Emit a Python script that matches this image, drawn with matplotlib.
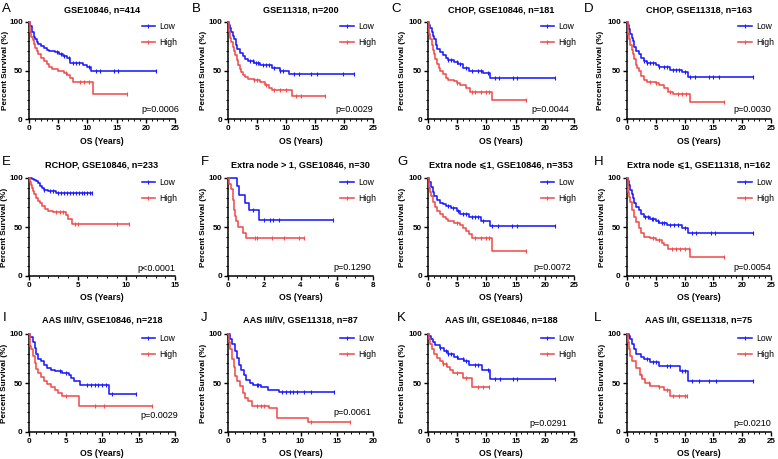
import numpy as np
import matplotlib
matplotlib.use("Agg")
import matplotlib.pyplot as plt
from matplotlib.lines import Line2D
from matplotlib.ticker import MultipleLocator

plt.rcParams['font.family'] = ['Liberation Sans', 'DejaVu Sans']

# ---------------- data ----------------
titles = ["GSE10846, n=414", "GSE11318, n=200", "CHOP, GSE10846, n=181", "CHOP, GSE11318, n=163",
          "RCHOP, GSE10846, n=233", "Extra node > 1, GSE10846, n=30", "Extra node \u2a7d1, GSE10846, n=353",
          "Extra node \u2a7d1, GSE11318, n=162", "AAS III/IV, GSE10846, n=218", "AAS III/IV, GSE11318, n=87",
          "AAS I/II, GSE10846, n=188", "AAS I/II, GSE11318, n=75"]
letters = ["A", "B", "C", "D", "E", "F", "G", "H", "I", "J", "K", "L"]
pvalues = ["p=0.0006", "p=0.0029", "p=0.0044", "p=0.0030", "p<0.0001", "p=0.1290",
           "p=0.0072", "p=0.0054", "p=0.0029", "p=0.0061", "p=0.0291", "p=0.0210"]
xmax = [25, 25, 25, 25, 15, 8, 25, 25, 20, 20, 25, 25]
xstep = [5, 5, 5, 5, 5, 2, 5, 5, 5, 5, 5, 5]
series_names = ["Low", "High"]

A_low_t = [0, 0.2, 0.5, 0.8, 1.0, 1.3, 1.6, 2.0, 2.5, 3.0, 3.5, 4.5, 5.2, 5.8, 6.5, 7.0, 9.3, 10.0, 10.6]
A_low_s = [100, 96, 90, 85, 82, 79, 77, 75, 73, 71, 70, 69, 67, 65, 63, 58, 56, 54, 49.5]
A_low_end = 21.8
A_low_c = [4.8, 5.5, 6.0, 6.8, 7.5, 8.0, 8.5, 10.3, 11.5, 12.2, 14.5, 15.3, 21.8]
A_high_t = [0, 0.1, 0.2, 0.4, 0.6, 0.8, 1.0, 1.3, 1.6, 2.0, 2.5, 3.0, 3.5, 4.0, 5.0, 6.0, 6.5, 7.0, 7.5, 11.0]
A_high_s = [100, 94, 90, 85, 81, 77, 73, 70, 67, 63, 60, 57, 54, 52, 50, 47, 45, 42, 38.5, 26]
A_high_end = 16.8
A_high_c = [6.3, 8.7, 9.5, 10.3, 16.8]

B_low_t = [0, 0.2, 0.4, 0.6, 0.8, 1.0, 1.3, 1.6, 2.0, 2.5, 3.0, 3.5, 4.5, 5.5, 7.5, 9.0, 10.6]
B_low_s = [100, 97, 94, 90, 86, 82, 76, 72, 68, 65, 62, 60, 58, 56, 53, 50, 46]
B_low_end = 21.8
B_low_c = [3.8, 4.3, 4.8, 5.2, 6.0, 6.5, 7.0, 8.0, 9.0, 9.5, 11.3, 12.2, 14.3, 15.3, 19.8, 21.8]
B_high_t = [0, 0.1, 0.2, 0.4, 0.6, 0.8, 1.0, 1.2, 1.5, 1.8, 2.0, 2.3, 2.6, 3.0, 3.5, 4.5, 5.5, 6.3, 7.0, 7.5, 11.0]
B_high_s = [100, 94, 90, 84, 79, 74, 70, 66, 61, 56, 52, 48, 45, 43, 41, 40, 38, 35, 32, 30, 24]
B_high_end = 16.8
B_high_c = [4.5, 5.0, 6.5, 8.0, 9.0, 10.0, 11.8, 12.5, 16.8]

C_low_t = [0, 0.2, 0.4, 0.6, 0.8, 1.0, 1.3, 1.6, 2.0, 2.5, 3.0, 3.5, 4.5, 5.2, 6.0, 7.0, 9.5, 10.6]
C_low_s = [100, 97, 94, 90, 86, 82, 76, 72, 69, 66, 63, 61, 59, 57, 53, 49, 47, 42.5]
C_low_end = 21.8
C_low_c = [3.5, 4.0, 5.0, 5.5, 6.5, 7.5, 8.5, 9.0, 10.3, 11.5, 12.2, 14.5, 15.3, 21.8]
C_high_t = [0, 0.1, 0.2, 0.4, 0.6, 0.8, 1.0, 1.2, 1.5, 1.8, 2.0, 2.5, 3.0, 3.5, 4.5, 5.0, 5.5, 6.5, 7.2, 11.0]
C_high_s = [100, 94, 88, 82, 76, 71, 67, 62, 57, 53, 50, 46, 42, 40, 39, 37, 35, 32, 28, 19.5]
C_high_end = 16.8
C_high_c = [5.0, 7.5, 8.0, 9.0, 10.0, 10.5, 16.8]

D_low_t = [0, 0.2, 0.4, 0.6, 0.8, 1.0, 1.3, 1.6, 2.0, 2.5, 3.0, 3.5, 5.0, 5.5, 7.5, 9.5, 10.6]
D_low_s = [100, 97, 93, 88, 84, 80, 74, 70, 67, 63, 60, 58, 56, 54, 51, 48, 43]
D_low_end = 21.8
D_low_c = [3.0, 3.5, 4.0, 4.5, 5.5, 6.5, 7.0, 8.0, 8.5, 9.0, 10.0, 11.0, 11.8, 14.3, 15.0, 16.0, 21.8]
D_high_t = [0, 0.1, 0.2, 0.4, 0.6, 0.8, 1.0, 1.2, 1.5, 1.8, 2.0, 2.5, 3.0, 3.5, 5.0, 5.5, 6.5, 7.2, 8.0, 11.0]
D_high_s = [100, 94, 88, 82, 76, 71, 67, 62, 56, 53, 50, 44, 40, 38, 37, 35, 32, 28, 26, 17.5]
D_high_end = 16.8
D_high_c = [4.0, 5.0, 7.5, 8.8, 9.5, 10.3, 16.8]

E_low_t = [0, 0.3, 0.5, 0.7, 0.9, 1.1, 1.3, 1.5, 2.0, 2.8]
E_low_s = [100, 99, 98, 97, 95, 92, 90, 88, 87, 85]
E_low_end = 6.5
E_low_c = [1.5, 2.2, 2.5, 3.0, 3.3, 3.6, 3.9, 4.2, 4.5, 4.8, 5.1, 5.4, 5.7, 6.0, 6.3, 6.5]
E_high_t = [0, 0.1, 0.2, 0.3, 0.4, 0.5, 0.7, 0.9, 1.1, 1.3, 1.6, 2.0, 2.5, 3.8, 4.0, 4.4]
E_high_s = [100, 96, 93, 90, 87, 84, 80, 77, 74, 71, 68, 66, 65, 62, 58, 53]
E_high_end = 10.3
E_high_c = [2.8, 3.2, 3.5, 4.7, 5.0, 9.0, 10.3]

F_low_t = [0, 0.5, 0.62, 0.95, 1.15, 1.7]
F_low_s = [100, 92, 83, 75, 67, 57]
F_low_end = 5.8
F_low_c = [1.4, 2.0, 2.3, 2.5, 2.8, 5.8]
F_high_t = [0, 0.05, 0.15, 0.3, 0.35, 0.4, 0.45, 0.55, 0.85, 1.0]
F_high_s = [100, 94, 89, 78, 67, 61, 56, 50, 44, 39]
F_high_end = 4.2
F_high_c = [1.5, 1.6, 2.4, 3.1, 3.9, 4.2]

G_low_t = [0, 0.2, 0.5, 0.8, 1.0, 1.5, 2.0, 2.5, 3.0, 4.0, 5.0, 5.5, 7.0, 9.0, 10.6]
G_low_s = [100, 96, 91, 86, 82, 78, 75, 73, 71, 69, 66, 63, 60, 56, 51]
G_low_end = 21.8
G_low_c = [3.5, 4.2, 5.2, 6.0, 6.5, 7.5, 8.0, 8.5, 9.5, 11.0, 12.0, 14.3, 15.3, 21.8]
G_high_t = [0, 0.1, 0.2, 0.35, 0.5, 0.8, 1.2, 1.6, 2.0, 2.5, 3.0, 3.5, 4.5, 5.5, 6.0, 6.5, 7.0, 7.5, 11.0]
G_high_s = [100, 94, 90, 86, 82, 76, 70, 66, 63, 60, 58, 56, 54, 52, 49, 46, 43, 39, 26]
G_high_end = 16.8
G_high_c = [5.0, 8.0, 9.0, 10.0, 10.5, 16.8]

H_low_t = [0, 0.2, 0.4, 0.6, 0.8, 1.0, 1.3, 1.6, 2.0, 2.5, 3.0, 4.0, 5.0, 5.5, 7.0, 9.5, 10.6]
H_low_s = [100, 97, 93, 88, 84, 80, 74, 70, 67, 63, 60, 58, 56, 54, 52, 49, 44]
H_low_end = 21.8
H_low_c = [3.2, 3.6, 4.3, 4.6, 5.3, 6.0, 6.5, 7.5, 8.2, 8.8, 10.0, 11.2, 12.0, 14.5, 15.3, 21.8]
H_high_t = [0, 0.1, 0.2, 0.35, 0.5, 0.8, 1.2, 1.5, 2.0, 2.5, 3.0, 4.0, 5.0, 6.0, 6.5, 7.2, 11.0]
H_high_s = [100, 93, 86, 81, 76, 67, 60, 55, 49, 44, 40, 39, 37, 34, 32, 28, 19]
H_high_end = 16.8
H_high_c = [4.5, 5.5, 7.8, 8.5, 9.2, 10.0, 10.7, 16.8]

I_low_t = [0, 0.2, 0.5, 0.8, 1.0, 1.3, 1.6, 2.0, 2.5, 3.0, 3.5, 4.5, 5.5, 5.8, 6.2, 7.0, 11.0]
I_low_s = [100, 97, 92, 86, 80, 75, 72, 68, 65, 63, 62, 60, 58, 55, 52, 48, 38.5]
I_low_end = 14.6
I_low_c = [4.2, 5.0, 8.0, 8.5, 9.0, 9.5, 10.0, 10.5, 11.4, 14.6]
I_high_t = [0, 0.1, 0.2, 0.3, 0.5, 0.8, 1.0, 1.3, 1.6, 2.0, 2.5, 3.0, 3.5, 4.0, 4.5, 6.8]
I_high_s = [100, 92, 88, 85, 78, 70, 64, 60, 56, 52, 49, 46, 43, 40, 37, 27]
I_high_end = 16.8
I_high_c = [5.0, 9.0, 10.3, 16.8]

J_low_t = [0, 0.3, 0.6, 0.9, 1.2, 1.5, 1.8, 2.2, 2.5, 3.0, 3.5, 4.5, 5.5, 7.0]
J_low_s = [100, 95, 90, 83, 76, 68, 63, 58, 53, 50, 48, 46, 43, 40.5]
J_low_end = 14.6
J_low_c = [4.0, 4.2, 7.5, 8.0, 8.5, 9.0, 9.5, 10.5, 11.5, 14.6]
J_high_t = [0, 0.1, 0.3, 0.5, 0.8, 1.0, 1.3, 1.6, 2.0, 2.3, 2.8, 3.3, 5.6, 6.8, 11.0]
J_high_s = [100, 92, 85, 75, 66, 57, 52, 47, 40, 35, 32, 27, 24, 14, 10]
J_high_end = 16.8
J_high_c = [4.0, 4.5, 5.0, 11.5, 16.8]

K_low_t = [0, 0.2, 0.5, 0.8, 1.2, 2.0, 2.8, 3.5, 4.5, 5.2, 6.2, 7.0, 9.2, 10.6]
K_low_s = [100, 98, 95, 92, 89, 86, 83, 80, 77, 75, 72, 68, 63, 54]
K_low_end = 21.8
K_low_c = [2.0, 3.0, 3.5, 4.0, 5.0, 6.0, 6.5, 8.0, 8.5, 10.3, 11.5, 12.3, 14.5, 15.3, 21.8]
K_high_t = [0, 0.1, 0.3, 0.6, 1.0, 1.5, 2.0, 2.5, 3.2, 3.8, 4.2, 6.0, 7.5]
K_high_s = [100, 95, 90, 85, 80, 76, 72, 69, 66, 63, 60, 55, 46]
K_high_end = 10.5
K_high_c = [2.5, 3.0, 5.0, 6.5, 8.5, 9.5, 10.5]

L_low_t = [0, 0.3, 0.5, 0.8, 1.2, 1.6, 2.5, 3.0, 4.0, 5.5, 9.2, 10.6]
L_low_s = [100, 98, 95, 90, 85, 80, 77, 74, 71, 67, 62, 52]
L_low_end = 21.8
L_low_c = [0.4, 3.5, 4.5, 5.0, 7.0, 7.5, 9.5, 10.0, 11.2, 12.5, 14.3, 15.5, 21.8]
L_high_t = [0, 0.1, 0.3, 0.5, 0.8, 1.5, 2.3, 2.6, 3.2, 4.0, 5.5, 6.5, 7.5]
L_high_s = [100, 92, 85, 78, 72, 65, 58, 54, 50, 47, 46, 43, 37]
L_high_end = 10.5
L_high_c = [2.5, 3.8, 5.5, 7.0, 8.0, 9.0, 10.0, 10.5]

curves = {
    "A": ((A_low_t, A_low_s, A_low_end, A_low_c), (A_high_t, A_high_s, A_high_end, A_high_c)),
    "B": ((B_low_t, B_low_s, B_low_end, B_low_c), (B_high_t, B_high_s, B_high_end, B_high_c)),
    "C": ((C_low_t, C_low_s, C_low_end, C_low_c), (C_high_t, C_high_s, C_high_end, C_high_c)),
    "D": ((D_low_t, D_low_s, D_low_end, D_low_c), (D_high_t, D_high_s, D_high_end, D_high_c)),
    "E": ((E_low_t, E_low_s, E_low_end, E_low_c), (E_high_t, E_high_s, E_high_end, E_high_c)),
    "F": ((F_low_t, F_low_s, F_low_end, F_low_c), (F_high_t, F_high_s, F_high_end, F_high_c)),
    "G": ((G_low_t, G_low_s, G_low_end, G_low_c), (G_high_t, G_high_s, G_high_end, G_high_c)),
    "H": ((H_low_t, H_low_s, H_low_end, H_low_c), (H_high_t, H_high_s, H_high_end, H_high_c)),
    "I": ((I_low_t, I_low_s, I_low_end, I_low_c), (I_high_t, I_high_s, I_high_end, I_high_c)),
    "J": ((J_low_t, J_low_s, J_low_end, J_low_c), (J_high_t, J_high_s, J_high_end, J_high_c)),
    "K": ((K_low_t, K_low_s, K_low_end, K_low_c), (K_high_t, K_high_s, K_high_end, K_high_c)),
    "L": ((L_low_t, L_low_s, L_low_end, L_low_c), (L_high_t, L_high_s, L_high_end, L_high_c)),
}

# ---------------- layout (pixels) ----------------
W, H = 778, 459
col_left = [29, 228, 428, 627]
col_width = [146, 145, 146, 144]
row_top = [22, 178, 334]
row_height = [97, 98, 98]
letter_x = [2, 192, 391, 584, 2, 201, 397, 594, 3, 201, 397, 594]
ylabel_x = [6, 203, 402, 601, 5, 203, 403, 602, 5, 203, 403, 602]
title_y = [10, 165, 320]
letter_y = [9, 162, 318]
xlabel_y = [142, 297, 453]
p_x = [1.03, 1.0, 0.97, 1.0, 1.0, 0.99, 0.98, 1.0, 1.02, 0.99, 0.95, 1.0]
p_y = [0.10, 0.10, 0.10, 0.10, 0.08, 0.09, 0.09, 0.09, 0.17, 0.20, 0.09, 0.09]

colors = ["#1a1aff", "#f24d4d"]

fig = plt.figure(figsize=(W / 100, H / 100), dpi=100)
fig.patch.set_facecolor("white")


def step_value(t, s, x):
    idx = np.searchsorted(np.asarray(t), x, side="right") - 1
    return np.asarray(s)[idx]


for i, key in enumerate(letters):
    r, c = divmod(i, 4)
    l, w = col_left[c], col_width[c]
    top, h = row_top[r], row_height[r]
    ax = fig.add_axes([l / W, 1 - (top + h) / H, w / W, h / H])
    for (t, s, end, cens), col in zip(curves[key], colors):
        tt = np.append(t, end)
        ss = np.append(s, s[-1])
        ax.step(tt, ss, where="post", color=col, lw=1.15, clip_on=False, zorder=3)
        cens = np.asarray(cens)
        ax.plot(cens, step_value(t, s, cens), ls="none", marker="|", ms=3, mew=0.8,
                color=col, clip_on=False, zorder=3)
    ax.set_xlim(0, xmax[i])
    ax.set_ylim(0, 100)
    ax.xaxis.set_major_locator(MultipleLocator(xstep[i]))
    ax.xaxis.set_minor_locator(MultipleLocator(1 if xstep[i] == 5 else 0.5))
    ax.yaxis.set_major_locator(MultipleLocator(50))
    ax.yaxis.set_minor_locator(MultipleLocator(10))
    for sp in ["top", "right"]:
        ax.spines[sp].set_visible(False)
    for sp in ["left", "bottom"]:
        ax.spines[sp].set_linewidth(1.1)
    ax.tick_params(which="major", length=3, width=1.0, labelsize=5.8, pad=1.5)
    ax.tick_params(which="minor", length=1.5, width=0.7)
    for lab in ax.get_xticklabels() + ax.get_yticklabels():
        lab.set_fontweight("bold")
    handles = [Line2D([], [], color=colors[k], lw=1.15, marker="|", ms=3, mew=0.8) for k in range(2)]
    ax.legend(handles, series_names, loc="upper left", bbox_to_anchor=(0.73, 1.06), frameon=False,
              fontsize=6.2, handlelength=1.6, handletextpad=0.5, labelspacing=0.75, borderpad=0.2)
    ax.text(p_x[i], p_y[i], pvalues[i], transform=ax.transAxes, ha="right", va="center", fontsize=6.5)
    # texts in figure pixels
    cx = l + w / 2
    fig.text(cx / W, 1 - title_y[r] / H, titles[i], ha="center", va="center", fontsize=6.6,
             fontweight="bold")
    fig.text(letter_x[i] / W, 1 - letter_y[r] / H, key, ha="left", va="center", fontsize=9.5)
    fig.text(cx / W, 1 - xlabel_y[r] / H, "OS (Years)", ha="center", va="center", fontsize=6.2,
             fontweight="bold")
    fig.text(ylabel_x[i] / W, 1 - (top + h / 2) / H, "Percent Survival (%)", ha="center", va="center",
             rotation=90, fontsize=5.9, fontweight="bold")

fig.savefig("out.png", dpi=100, facecolor="white")
